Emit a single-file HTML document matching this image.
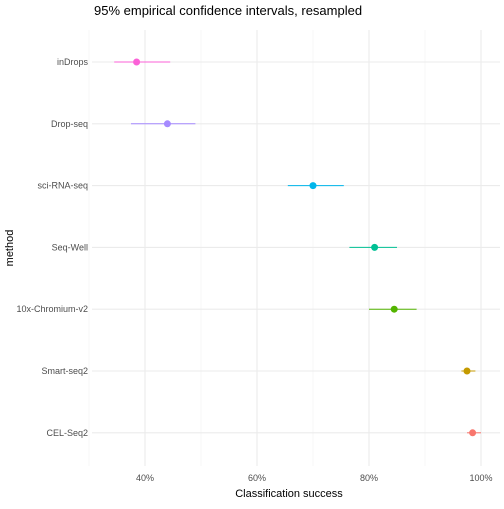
<!DOCTYPE html>
<html><head><meta charset="utf-8"><style>
body{margin:0;background:#fff;font-family:"Liberation Sans",sans-serif}
</style></head><body>
<svg id="c" width="504" height="504" xmlns="http://www.w3.org/2000/svg">
<text x="94" y="15" font-size="13" fill="#000">95% empirical confidence intervals, resampled</text>
<g id="grid"></g><g id="marks"></g><g id="labels"></g>
<text x="289" y="497" font-size="11" text-anchor="middle" fill="#000">Classification success</text>
<text transform="translate(13,248) rotate(-90)" font-size="11" text-anchor="middle" fill="#000">method</text>
</svg>
<script>
const methods=["inDrops","Drop-seq","sci-RNA-seq","Seq-Well","10x-Chromium-v2","Smart-seq2","CEL-Seq2"];
const est=[38.5,44,70,81,84.5,97.5,98.5];
const lo=[34.5,37.5,65.5,76.5,80,96.5,97.5];
const hi=[44.5,49,75.5,85,88.5,99,100];
const colors=["#FB61D7","#A58AFF","#00B6EB","#00C094","#53B400","#C49A00","#F8766D"];
const ticks=[40,60,80,100];
const minor=[30,50,70,90];
const NS="http://www.w3.org/2000/svg";
const X=v=>145+(v-40)*5.6;
const Y=i=>62+i*61.8;
const L=92,R=500,T=30,B=466;
function mk(t,a,p){const e=document.createElementNS(NS,t);for(const k in a)e.setAttribute(k,a[k]);document.getElementById(p).appendChild(e);return e;}
minor.forEach(v=>{const e=mk("line",{x1:X(v),x2:X(v),y1:T,y2:B,stroke:"#f2f2f2","stroke-width":0.6},"grid");

});
ticks.forEach(v=>{const e=mk("line",{x1:X(v),x2:X(v),y1:T,y2:B,stroke:"#ebebeb","stroke-width":1.1},"grid");


const t=mk("text",{x:X(v),y:481,"font-size":9,"text-anchor":"middle",fill:"#4d4d4d"},"labels");t.textContent=v+"%";

});
methods.forEach((m,i)=>{const g=mk("line",{x1:L,x2:R,y1:Y(i),y2:Y(i),stroke:"#ebebeb","stroke-width":1.1},"grid");


const t=mk("text",{x:88,y:Y(i)+3,"font-size":9,"text-anchor":"end",fill:"#4d4d4d"},"labels");t.textContent=m;


const l=mk("line",{x1:X(lo[i]),x2:X(hi[i]),y1:Y(i),y2:Y(i),stroke:colors[i],"stroke-width":1},"marks");


const c=mk("circle",{cx:X(est[i]),cy:Y(i),r:3.5,fill:colors[i]},"marks");

});
</script>
</body></html>
